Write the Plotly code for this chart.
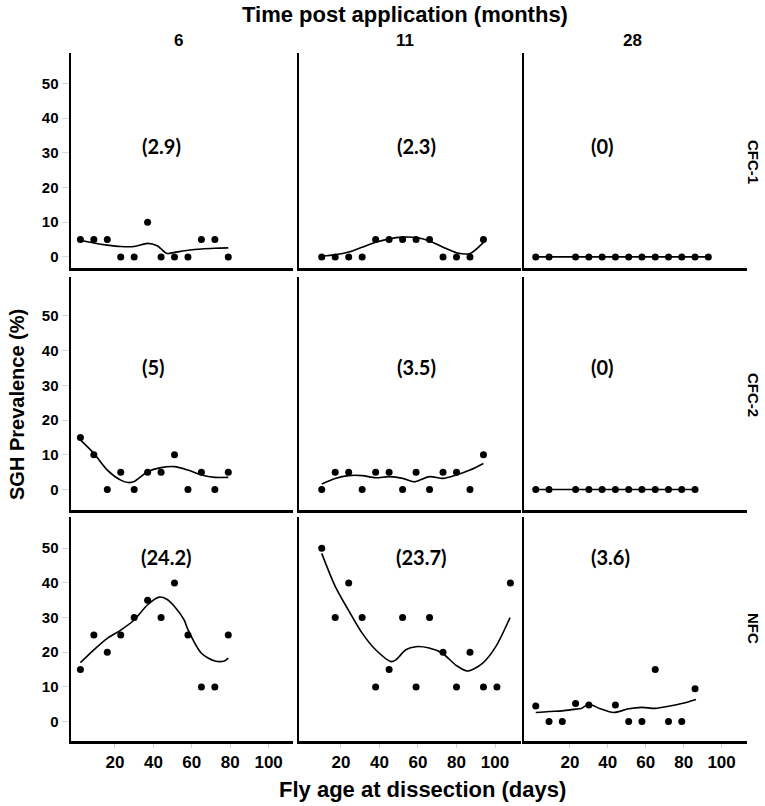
import plotly.graph_objects as go

# ---------------- data ----------------
months = ["6", "11", "28"]
treatments = ["CFC-1", "CFC-2", "NFC"]
mean_labels = [["(2.9)", "(2.3)", "(0)"],
               ["(5)", "(3.5)", "(0)"],
               ["(24.2)", "(23.7)", "(3.6)"]]

# CFC-1
cfc1_6_days = [2, 9, 16, 23, 30, 37, 44, 51, 58, 65, 72, 79]
cfc1_6_vals = [5, 5, 5, 0, 0, 10, 0, 0, 0, 5, 5, 0]
cfc1_6_fit_x = [2, 9, 16, 23, 30, 37, 42, 47, 51, 58, 65, 72, 79]
cfc1_6_fit_y = [4.8, 4.0, 3.4, 3.0, 3.0, 3.9, 3.2, 1.0, 1.3, 1.9, 2.3, 2.5, 2.6]

cfc1_11_days = [10, 17, 24, 31, 38, 45, 52, 59, 66, 73, 80, 87, 94]
cfc1_11_vals = [0, 0, 0, 0, 5, 5, 5, 5, 5, 0, 0, 0, 5]
cfc1_11_fit_x = [10, 17, 24, 31, 38, 45, 52, 59, 66, 73, 80, 87, 94]
cfc1_11_fit_y = [0.2, 0.6, 1.4, 2.8, 4.2, 5.2, 5.7, 5.6, 4.6, 2.8, 1.2, 1.0, 4.2]

cfc1_28_days = [2, 9, 23, 30, 37, 44, 51, 58, 65, 72, 79, 86, 93]
cfc1_28_vals = [0, 0, 0, 0, 0, 0, 0, 0, 0, 0, 0, 0, 0]
cfc1_28_fit_x = [2, 93]
cfc1_28_fit_y = [0, 0]

# CFC-2
cfc2_6_days = [2, 9, 16, 23, 30, 37, 44, 51, 58, 65, 72, 79]
cfc2_6_vals = [15, 10, 0, 5, 0, 5, 5, 10, 0, 5, 0, 5]
cfc2_6_fit_x = [2, 9, 16, 23, 27, 30, 37, 44, 51, 58, 65, 72, 79]
cfc2_6_fit_y = [14.3, 10.4, 5.6, 2.7, 2.0, 2.3, 5.1, 6.3, 6.6, 5.6, 4.2, 3.5, 3.5]

cfc2_11_days = [10, 17, 24, 31, 38, 45, 52, 59, 66, 73, 80, 87, 94]
cfc2_11_vals = [0, 5, 5, 0, 5, 5, 0, 5, 0, 5, 5, 0, 10]
cfc2_11_fit_x = [10, 17, 24, 31, 38, 45, 52, 57, 59, 66, 73, 80, 87, 94]
cfc2_11_fit_y = [1.6, 3.2, 4.0, 4.0, 3.4, 3.7, 3.2, 2.3, 2.3, 3.7, 3.2, 4.2, 5.6, 7.5]

cfc2_28_days = [2, 9, 23, 30, 37, 44, 51, 58, 65, 72, 79, 86]
cfc2_28_vals = [0, 0, 0, 0, 0, 0, 0, 0, 0, 0, 0, 0]
cfc2_28_fit_x = [2, 86]
cfc2_28_fit_y = [0, 0]

# NFC
nfc_6_days = [2, 9, 16, 23, 30, 37, 44, 51, 58, 65, 72, 79]
nfc_6_vals = [15, 25, 20, 25, 30, 35, 30, 40, 25, 10, 10, 25]
nfc_6_fit_x = [2, 9, 16, 23, 30, 37, 43, 47, 51, 56, 58, 65, 72, 77, 79]
nfc_6_fit_y = [17, 20.7, 24, 26.4, 29.3, 33.7, 35.9, 35.3, 33.2, 29.3, 26.5, 19.7, 17.5, 17.5, 18.3]

nfc_11_days = [10, 17, 24, 31, 38, 45, 52, 59, 66, 73, 80, 87, 94, 101, 108]
nfc_11_vals = [50, 30, 40, 30, 10, 15, 30, 10, 30, 20, 10, 20, 10, 10, 40]
nfc_11_fit_x = [10, 17, 24, 31, 38, 46, 48.5, 53.7, 58.9, 65.8, 72.7, 79.6, 85.7, 93.5, 100.4, 107.8]
nfc_11_fit_y = [48.5, 39, 32, 25.5, 20.7, 17.3, 17.8, 20.7, 21.6, 21.2, 19.7, 16.3, 14.6, 16.8, 21.6, 30]

nfc_28_days = [2, 9, 16, 23, 30, 44, 51, 58, 65, 72, 79, 86]
nfc_28_vals = [4.5, 0, 0, 5.2, 4.8, 4.8, 0, 0, 15, 0, 0, 9.5]
nfc_28_fit_x = [2, 9, 16, 23, 26, 30, 36, 43, 51, 58, 65, 72.7, 79.7, 86.5]
nfc_28_fit_y = [2.6, 2.9, 3.1, 3.6, 3.8, 5.0, 3.7, 2.6, 3.7, 4.1, 3.8, 4.5, 5.3, 6.4]

x_tick_vals = [20, 40, 60, 80, 100]
y_tick_vals = [0, 10, 20, 30, 40, 50]

panels = [
    [(cfc1_6_days, cfc1_6_vals, cfc1_6_fit_x, cfc1_6_fit_y),
     (cfc1_11_days, cfc1_11_vals, cfc1_11_fit_x, cfc1_11_fit_y),
     (cfc1_28_days, cfc1_28_vals, cfc1_28_fit_x, cfc1_28_fit_y)],
    [(cfc2_6_days, cfc2_6_vals, cfc2_6_fit_x, cfc2_6_fit_y),
     (cfc2_11_days, cfc2_11_vals, cfc2_11_fit_x, cfc2_11_fit_y),
     (cfc2_28_days, cfc2_28_vals, cfc2_28_fit_x, cfc2_28_fit_y)],
    [(nfc_6_days, nfc_6_vals, nfc_6_fit_x, nfc_6_fit_y),
     (nfc_11_days, nfc_11_vals, nfc_11_fit_x, nfc_11_fit_y),
     (nfc_28_days, nfc_28_vals, nfc_28_fit_x, nfc_28_fit_y)],
]

# ---------------- layout geometry ----------------
W, H = 765, 806
col_px = [(71, 293), (299, 521), (524, 747)]
row_px = [(53, 268), (277, 510), (517, 741)]
x_ranges = [[-2.9, 112.7], [-1.8, 113.5], [-4.2, 113.4]]
y_ranges = [[-3.2, 58.8], [-5.9, 61.2], [-5.6, 59.0]]
label_pos = [[(44, 32), (59, 32), (37, 32)],
             [(40, 35.4), (59, 35.4), (37, 35.4)],
             [(47, 47.5), (62, 47.5), (41.5, 47.5)]]

NARROW = "Liberation Sans Narrow, Arial Narrow, Liberation Sans, Arial, sans-serif"
ARIAL = "Liberation Sans, Arial, sans-serif"
CALIBRI = "Lato, Carlito, Calibri, sans-serif"

fig = go.Figure()
layout_axes = {}
annotations = []

for r in range(3):
    for c in range(3):
        k = r * 3 + c + 1
        xs, ys, fx, fy = panels[r][c]
        xa = "x" if k == 1 else f"x{k}"
        ya = "y" if k == 1 else f"y{k}"
        smooth = len(fx) > 2
        fig.add_trace(go.Scatter(
            x=fx, y=fy, mode="lines", xaxis=xa, yaxis=ya,
            line=dict(color="black", width=1.6,
                      shape="spline" if smooth else "linear", smoothing=0.8),
            hoverinfo="skip", showlegend=False))
        fig.add_trace(go.Scatter(
            x=xs, y=ys, mode="markers", xaxis=xa, yaxis=ya,
            marker=dict(color="black", size=7),
            showlegend=False))
        x0, x1 = col_px[c]
        y0, y1 = row_px[r]
        xname = "xaxis" if k == 1 else f"xaxis{k}"
        yname = "yaxis" if k == 1 else f"yaxis{k}"
        layout_axes[xname] = dict(
            domain=[x0 / W, x1 / W], range=x_ranges[c], anchor=ya,
            showgrid=False, zeroline=False, showline=True,
            linecolor="black", linewidth=2.5,
            tickvals=x_tick_vals,
            ticks="outside" if r == 2 else "", ticklen=4, tickcolor="#cfcfcf",
            showticklabels=(r == 2),
            tickfont=dict(family=NARROW, size=17, color="black", weight="bold"))
        layout_axes[yname] = dict(
            domain=[1 - y1 / H, 1 - y0 / H], range=y_ranges[r], anchor=xa,
            showgrid=False, zeroline=False, showline=True,
            linecolor="black", linewidth=2.5,
            tickvals=y_tick_vals,
            ticks="outside" if c == 0 else "", ticklen=7, tickcolor="#d8d8d8",
            showticklabels=(c == 0),
            tickfont=dict(family=ARIAL, size=15, color="black", weight="bold"))
        lx, ly = label_pos[r][c]
        annotations.append(dict(
            x=lx, y=ly, xref=xa, yref=ya, text=mean_labels[r][c],
            showarrow=False, xanchor="center", yanchor="middle",
            font=dict(family=CALIBRI, size=20, color="black", weight="bold")))


def paper_text(x_px, y_px, text, size, family, angle=0):
    return dict(x=x_px / W, y=1 - y_px / H, xref="paper", yref="paper",
                text=text, textangle=angle, showarrow=False,
                xanchor="center", yanchor="middle",
                font=dict(family=family, size=size, color="black", weight="bold"))


# column headers
col_centers = [178, 405, 632]
for c in range(3):
    annotations.append(paper_text(col_centers[c], 41, months[c], 17, NARROW))

# row labels
row_centers = [162, 395, 628]
for r in range(3):
    annotations.append(paper_text(754, row_centers[r], treatments[r], 15, ARIAL, 90))

# titles
annotations.append(paper_text(405, 14, "Time post application (months)", 22, NARROW))
annotations.append(paper_text(422, 789, "Fly age at dissection (days)", 22, NARROW))
annotations.append(paper_text(17, 405, "SGH Prevalence (%)", 20, ARIAL, -90))

fig.update_layout(
    width=W, height=H,
    margin=dict(l=0, r=0, t=0, b=0),
    paper_bgcolor="white", plot_bgcolor="white",
    hovermode=False,
    annotations=annotations,
    **layout_axes)

fig.write_html("out.html",
               config={"displayModeBar": False, "staticPlot": True},
               post_script="document.body.style.margin='0px';"
                           "document.body.style.overflow='hidden';")
